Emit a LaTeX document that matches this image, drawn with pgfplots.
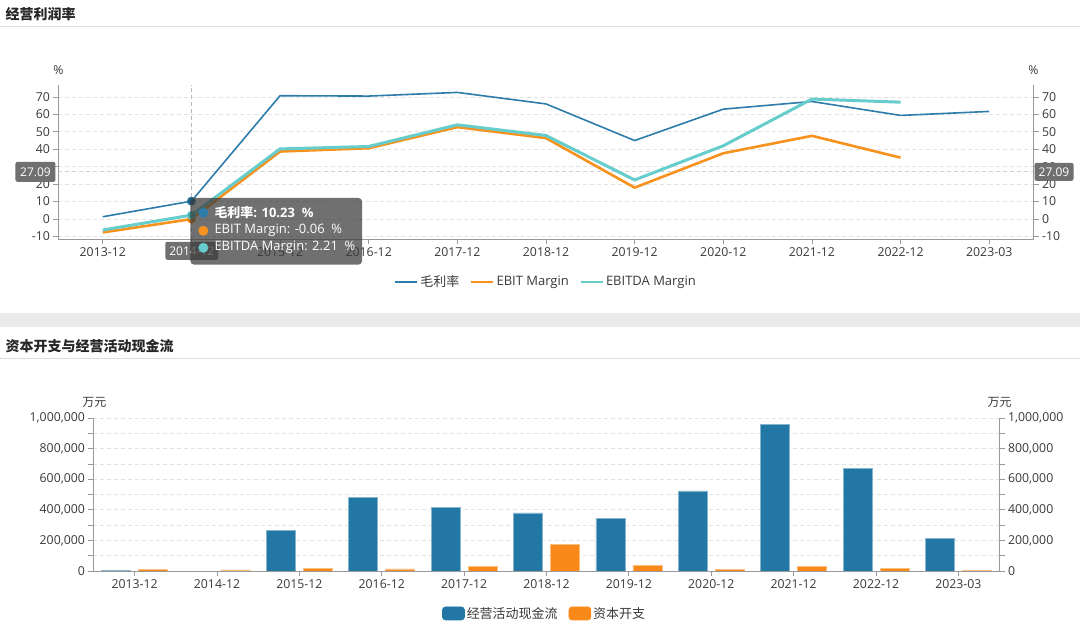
\documentclass[border=0pt]{standalone}
\usepackage{pgfplots}
\pgfplotsset{compat=1.18}
\usepackage{fontspec}
\setmainfont{Open Sans}
\newfontfamily\cjk{Noto Sans CJK SC}
\definecolor{cA}{HTML}{2E7CA9}
\definecolor{cAd}{HTML}{1F5A80}
\definecolor{cB}{HTML}{F7921E}
\definecolor{cBd}{HTML}{D9700A}
\definecolor{cC}{HTML}{67CDCC}
\definecolor{cCd}{HTML}{3FA9A8}
\definecolor{bblue}{HTML}{2377A4}
\definecolor{borg}{HTML}{F98A1A}
\definecolor{axc}{HTML}{9A9A9A}
\definecolor{tickc}{HTML}{3A3A3A}
\definecolor{gridc}{HTML}{E2E2E2}
\definecolor{sepc}{HTML}{DDDDDD}
\definecolor{bandc}{HTML}{EBEBEB}
\definecolor{tipc}{HTML}{3A3A3A}
\definecolor{lblc}{HTML}{707070}
\pgfplotstableread{
x gross ebit ebitda
0 1.3 -7.7 -6.3
1 10.23 -0.06 2.21
2 70.7 38.7 40.2
3 70.5 40.6 41.6
4 72.6 52.7 54.0
5 66.0 46.4 47.9
6 45.0 18.0 22.4
7 63.0 37.7 42.0
8 67.4 47.7 68.8
9 59.4 35.2 67.0
}\margins
\pgfplotstableread{
x cash
0 6000
2 265000
3 483000
4 417000
5 380000
6 346000
7 524000
8 959000
9 670000
10 211000
}\cashtab
\pgfplotstableread{
x capex
0 12000
1 7000
2 15000
3 14000
4 30000
5 174000
6 39000
7 11000
8 28000
9 15000
10 6000
}\capextab
\pgfplotsset{
  common/.style={
    scale only axis,
    xmin=-0.5, xmax=10.5,
    axis line style={draw=axc, line width=0.8pt, -},
    tick align=outside, major tick length=5pt,
    tick style={draw=axc, line width=0.8pt},
    ticklabel style={font=\fontsize{12.3}{14}\selectfont, text=tickc},
    grid style={gridc, dash pattern=on 4pt off 3pt, line width=0.8pt},
    xtick={0,...,10},
    xticklabels={2013-12,2014-12,2015-12,2016-12,2017-12,2018-12,2019-12,2020-12,2021-12,2022-12,2023-03},
    scaled y ticks=false,
  },
}
\begin{document}
\begin{tikzpicture}
\fill[white] (0pt,0pt) rectangle (1080pt,636pt);
% headers
\node[anchor=west, inner sep=0pt, font=\cjk\bfseries\fontsize{14}{16}\selectfont, text=black!85] at (5pt,622pt) {经营利润率};
\draw[sepc, line width=1pt] (0pt,609pt) -- (1080pt,609pt);
\fill[bandc] (0pt,309pt) rectangle (1080pt,323pt);
\node[anchor=west, inner sep=0pt, font=\cjk\bfseries\fontsize{14}{16}\selectfont, text=black!85] at (5pt,290pt) {资本开支与经营活动现金流};
\draw[sepc, line width=1pt] (0pt,277.5pt) -- (1080pt,277.5pt);

% ===== top chart: left axis =====
\begin{axis}[common,
  at={(58pt,396.7pt)}, anchor=south west,
  width=976pt, height=154.3pt,
  ymin=-11.5, ymax=76.9,
  axis x line*=bottom, axis y line*=left,
  ytick={-10,0,...,70}, yticklabels={-10,0,10,20,30,40,50,60,70},
  ymajorgrids,
  legend style={at={(0.5,-0.277)}, anchor=center, draw=none, fill=none,
    legend columns=3, font=\fontsize{13}{15}\selectfont, text=tickc,
    /tikz/every even column/.append style={column sep=9pt}},
  legend image code/.code={\draw[#1,line width=2.2pt] (0pt,0pt) -- (22pt,0pt);},
]
\draw[axc!70, dash pattern=on 4pt off 3pt, line width=0.8pt] (axis cs:1,-11.5) -- (axis cs:1,76.9);
\draw[axc!45, dash pattern=on 4pt off 3pt, line width=0.8pt] (axis cs:-0.5,27.09) -- (axis cs:10.5,27.09);
\addplot[cA, line width=1.6pt] table[x=x,y=gross] \margins;
\addlegendentry{\cjk 毛利率}
\addplot[cB, line width=2.6pt] table[x=x,y=ebit] \margins;
\addlegendentry{EBIT Margin}
\addplot[cC, line width=3pt] table[x=x,y=ebitda] \margins;
\addlegendentry{EBITDA Margin}
\addplot[cA, line width=1.6pt, forget plot] coordinates {(9,59.4) (10,61.7)};
\addplot[forget plot, only marks, mark=*, mark size=4pt, mark options={fill=cAd, draw=cA, line width=1pt}] coordinates {(1,10.23)};
\addplot[forget plot, only marks, mark=*, mark size=4pt, mark options={fill=cBd, draw=cB, line width=1pt}] coordinates {(1,-0.06)};
\addplot[forget plot, only marks, mark=*, mark size=4pt, mark options={fill=cCd, draw=cC, line width=1pt}] coordinates {(1,2.21)};
\end{axis}
% ===== top chart: right axis =====
\begin{axis}[common,
  at={(58pt,396.7pt)}, anchor=south west,
  width=976pt, height=154.3pt,
  ymin=-11.5, ymax=76.9,
  axis x line=none, axis y line*=right,
  ytick={-10,0,...,70}, yticklabels={-10,0,10,20,30,40,50,60,70},
]
\addplot[draw=none, forget plot] coordinates {(0,0)};
\end{axis}
\node[font=\fontsize{12.3}{14}\selectfont, text=tickc] at (58pt,566pt) {\%};
\node[font=\fontsize{12.3}{14}\selectfont, text=tickc] at (1034pt,566pt) {\%};

% ===== bottom chart =====
\begin{axis}[common,
  at={(93pt,64.5pt)}, anchor=south west,
  width=907pt, height=153pt,
  ymin=0, ymax=1000000,
  axis x line*=bottom, axis y line*=left,
  ytick={0,100000,...,1000000},
  yticklabels={0,,{200,000},,{400,000},,{600,000},,{800,000},,{1,000,000}},
  ymajorgrids,
  ybar, bar width=29pt,
  legend style={at={(0.498,-0.278)}, anchor=center, draw=none, fill=none,
    legend columns=2, font=\fontsize{13}{15}\selectfont, text=tickc,
    /tikz/every even column/.append style={column sep=9pt}},
]
\addplot[bar shift=-18.5pt, fill=bblue, draw=bblue!55!white, line width=0.6pt,
  legend image code/.code={\fill[bblue, rounded corners=3pt] (0pt,-6.5pt) rectangle (22pt,6.5pt);}]
  table[x=x,y=cash] \cashtab;
\addlegendentry{\cjk 经营活动现金流}
\addplot[bar shift=18.5pt, fill=borg, draw=borg!55!white, line width=0.6pt,
  legend image code/.code={\fill[borg, rounded corners=3pt] (0pt,-6.5pt) rectangle (22pt,6.5pt);}]
  table[x=x,y=capex] \capextab;
\addlegendentry{\cjk 资本开支}
\end{axis}
\begin{axis}[common,
  at={(93pt,64.5pt)}, anchor=south west,
  width=907pt, height=153pt,
  ymin=0, ymax=1000000,
  axis x line=none, axis y line*=right,
  ytick={0,100000,...,1000000},
  yticklabels={0,,{200,000},,{400,000},,{600,000},,{800,000},,{1,000,000}},
]
\addplot[draw=none, forget plot] coordinates {(0,0)};
\end{axis}
\node[font=\cjk\fontsize{12}{14}\selectfont, text=tickc] at (94pt,233pt) {万元};
\node[font=\cjk\fontsize{12}{14}\selectfont, text=tickc] at (1000pt,233pt) {万元};

% ===== crosshair labels and tooltip =====
\fill[lblc, rounded corners=2pt] (15pt,474pt) rectangle (55pt,454pt);
\node[text=white, font=\fontsize{12}{14}\selectfont] at (35pt,464pt) {27.09};
\fill[lblc, rounded corners=2pt] (1035pt,473pt) rectangle (1074pt,455pt);
\node[text=white, font=\fontsize{12}{14}\selectfont] at (1054.5pt,464pt) {27.09};
\fill[lblc, rounded corners=2pt] (165pt,394pt) rectangle (218pt,376pt);
\node[text=white, font=\fontsize{12}{14}\selectfont] at (191.5pt,385pt) {2014-12};
\fill[tipc, opacity=0.72, rounded corners=4pt] (190pt,438pt) rectangle (362pt,371pt);
\fill[cA] (203pt,423pt) circle (5pt);
\fill[cB] (203pt,405pt) circle (5pt);
\fill[cC] (203pt,388pt) circle (5pt);
\node[anchor=west, inner sep=0pt, text=white, font=\bfseries\fontsize{13}{15}\selectfont] at (214pt,423pt) {{\cjk 毛利率}: 10.23~~\%};
\node[anchor=west, inner sep=0pt, text=white, font=\fontsize{13}{15}\selectfont] at (214pt,405pt) {EBIT Margin: -0.06~~\%};
\node[anchor=west, inner sep=0pt, text=white, font=\fontsize{13}{15}\selectfont] at (214pt,388pt) {EBITDA Margin: 2.21~~\%};
\end{tikzpicture}
\end{document}
